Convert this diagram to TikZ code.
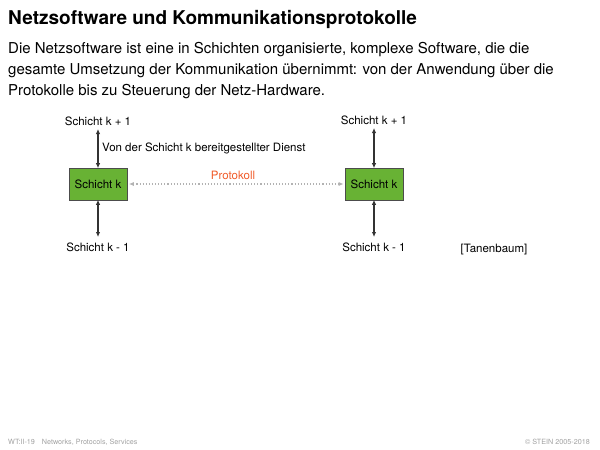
\documentclass[tikz,border=0pt]{standalone}
\usepackage{fontspec}
\setmainfont{TeX Gyre Heros}
\usetikzlibrary{arrows.meta}
\definecolor{layergreen}{RGB}{104,178,52}
\definecolor{protored}{RGB}{240,90,40}
\definecolor{footgray}{RGB}{160,160,160}
\begin{document}
\begin{tikzpicture}[x=1pt,y=-1pt,
  layerbox/.style={draw=black!70,fill=layergreen,line width=0.6pt,minimum width=58pt,minimum height=32pt,inner sep=0pt,font=\fontsize{11.5}{13}\selectfont},
  lbl/.style={inner sep=0pt,font=\fontsize{11.5}{13}\selectfont},
  introline/.style={anchor=base west,inner sep=0pt,font=\fontsize{15}{18}\selectfont},
  svc/.style={{Latex[length=5pt,width=4.5pt]}-{Latex[length=5pt,width=4.5pt]},line width=1.1pt,black!80},
  proto/.style={{Latex[length=5pt,width=4pt]}-{Latex[length=5pt,width=4pt]},gray!60,dotted,line width=1.1pt},
  foot/.style={inner sep=0pt,anchor=base west,text=footgray,font=\fontsize{7.2}{8}\selectfont}]
\useasboundingbox (0,0) rectangle (600,450);
% heading and introduction
\node[anchor=base west,inner sep=0pt,font=\fontsize{19}{22}\selectfont\bfseries] (title) at (8,24) {Netzsoftware und Kommunikationsprotokolle};
\node[introline] (intro1) at (8,53) {Die Netzsoftware ist eine in Schichten organisierte, komplexe Software, die die};
\node[introline] (intro2) at (8,74) {gesamte Umsetzung der Kommunikation übernimmt: von der Anwendung über die};
\node[introline] (intro3) at (8,95) {Protokolle bis zu Steuerung der Netz-Hardware.};
% two peer layers
\node[layerbox] (ka) at (98,184) {Schicht k};
\node[layerbox] (kb) at (374,184) {Schicht k};
\node[lbl] (upa) at (98,121) {Schicht k + 1};
\node[lbl] (loa) at (98,247) {Schicht k - 1};
\node[lbl] (upb) at (374,120) {Schicht k + 1};
\node[lbl] (lob) at (374,247) {Schicht k - 1};
% service access between adjacent layers
\coordinate (upatip) at (98,129);
\coordinate (loatip) at (98,237);
\coordinate (upbtip) at (374,128);
\coordinate (lobtip) at (374,237);
\draw[svc] (upatip) -- ([yshift=-0.5pt]ka.north);
\draw[svc] ([yshift=0.5pt]ka.south) -- (loatip);
\draw[svc] (upbtip) -- ([yshift=-0.5pt]kb.north);
\draw[svc] ([yshift=0.5pt]kb.south) -- (lobtip);
\node[lbl,anchor=west] (dienst) at (102,148) {Von der Schicht k bereitgestellter Dienst};
% peer protocol
\draw[proto] ([xshift=1.5pt]ka.east) -- ([xshift=-1pt]kb.west);
\node[lbl,text=protored] (prot) at (233,175) {Protokoll};
\node[lbl] (src) at (494,250) {[Tanenbaum]};
% footer
\node[foot] (fl) at (8,444) {WT:II-19\hspace{7pt}Networks, Protocols, Services};
\node[foot,anchor=base east] (fr) at (590,444) {© STEIN 2005-2018};
\end{tikzpicture}
\end{document}
